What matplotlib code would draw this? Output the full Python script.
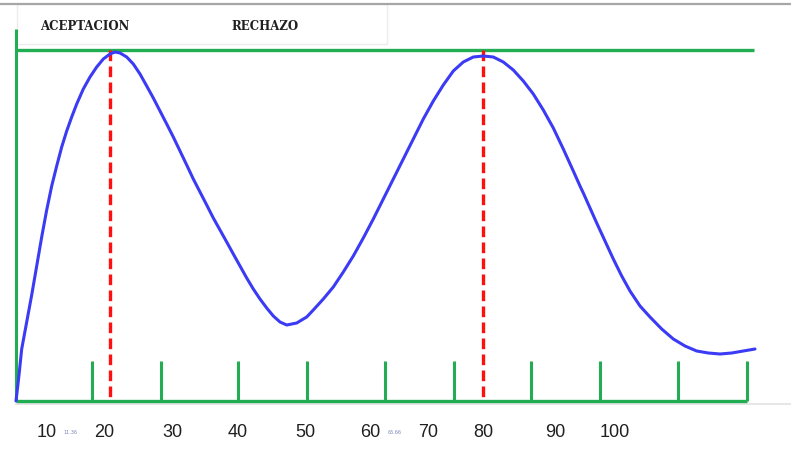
import matplotlib.pyplot as plt

# everything in picture units: x to the right, y downwards (0 at top)
curve_x = [16, 19, 21.7, 26.7, 31.7, 36.7, 41.7, 46.7, 51.7, 56.7, 61.7, 66.7, 71.7, 76.7,
           83.3, 90, 96.7, 103.3, 110, 115, 120, 126.7, 133.3, 140, 146.7, 153.3, 160,
           166.7, 173.3, 180, 186.7, 193.3, 200, 206.7, 213.3, 220, 226.7, 233.3, 240,
           246.7, 253.3, 260, 266.7, 273.3, 280, 286.7, 296.7, 306.7, 313.3, 323.3, 333.3,
           343.3, 353.3, 363.3, 373.3, 383.3, 393.3, 403.3, 413.3, 423.3, 433.3, 443.3,
           453.3, 463.3, 473.3, 483.3, 493.3, 503.3, 513.3, 523.3, 533.3, 543.3, 553.3,
           563.3, 573.3, 580, 583.3, 590, 596.7, 605, 613.3, 621.7, 630, 640, 650, 661.7,
           673.3, 685, 696.7, 708.3, 720, 731.7, 743.3, 755]
curve_y = [402, 376, 350, 323, 296, 267, 238, 211, 187, 167, 148, 132, 118, 105,
           90, 78, 68, 60, 55, 53, 54, 58, 65, 75, 87, 99, 112,
           125, 138, 152, 166, 180, 193, 206, 219, 231, 243, 255, 267,
           279, 290, 300, 309, 317, 323, 326, 324, 318, 311, 300, 288,
           273, 257, 239, 220, 200, 180, 160, 140, 120, 102, 86,
           72, 63, 58, 57, 58, 63, 71, 82, 95, 111, 129,
           150, 172, 187, 194, 209, 224, 242, 260, 277, 292, 307, 318, 330,
           340, 347, 352, 354, 355, 354, 352, 350]

tick_x = [92, 161, 238, 307, 385, 454, 531, 600, 678, 747]
peak_x = [110, 483]

label_text = ['10', '20', '30', '40', '50', '60', '70', '80', '90', '100']
label_x = [47, 104, 172, 238, 305, 370, 428, 483, 555, 615]
small_text = ['11.36', '65.66']
small_x = [70, 395]

x0, y0 = 16, 402      # origin of the green axes
top_y = 51
tick_top = 362

green = '#22ad52'
blue = '#3b3bf5'

fig = plt.figure(figsize=(7.91, 4.56), dpi=100)
ax = fig.add_axes([0, 0, 1, 1])
ax.set_xlim(0, 791)
ax.set_ylim(456, 0)
ax.axis('off')

# grey frame lines of the screenshot
ax.plot([0, 791], [5, 5], color='#a6a6a6', lw=1.6)
ax.plot([x0, 791], [y0 + 3, y0 + 3], color='#e2e2e2', lw=1.2)

# header box
ax.add_patch(plt.Rectangle((17, 5), 370, 40, facecolor='white', edgecolor='#ececec', lw=1, zorder=1))
ax.text(40, 27, 'ACEPTACION', fontsize=8.5, fontweight='bold', family='DejaVu Serif',
        va='center', ha='left', color='#202020')
ax.text(231, 27, 'RECHAZO', fontsize=8.5, fontweight='bold', family='DejaVu Serif',
        va='center', ha='left', color='#202020')

# green axes and top line
ax.plot([x0, x0], [30, y0], color=green, lw=2.2, solid_capstyle='butt', zorder=2)
ax.plot([x0, 747], [y0, y0], color=green, lw=2.4, solid_capstyle='butt', zorder=2)
ax.plot([x0, 754], [top_y, top_y], color=green, lw=2.4, solid_capstyle='butt', zorder=2)
for tx in tick_x:
    ax.plot([tx, tx], [tick_top, y0], color=green, lw=2.2, solid_capstyle='butt', zorder=2)

# red dashed lines at the peaks
for px in peak_x:
    ax.plot([px, px], [top_y, y0], color='#ff1010', lw=2.4, dashes=(3.2, 1.6), zorder=3)

# curve
ax.plot(curve_x, curve_y, color=blue, lw=2.2, zorder=4, solid_capstyle='round',
        solid_joinstyle='round')

for t, lx in zip(label_text, label_x):
    ax.text(lx, 433, t, fontsize=13, family='Liberation Sans', ha='center', va='center', color='#202020')
for t, sx in zip(small_text, small_x):
    ax.text(sx, 433, t, fontsize=3.5, ha='center', va='center', color='#7a86b8')

fig.savefig('out.png', dpi=100)
